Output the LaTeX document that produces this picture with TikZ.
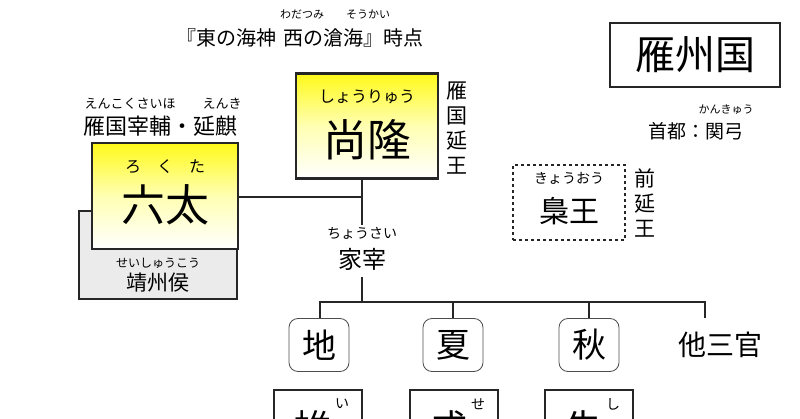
\documentclass[tikz,border=0pt]{standalone}
\usepackage{fontspec}
\setmainfont{Noto Sans CJK JP}
\begin{document}
\begin{tikzpicture}[x=1pt,y=-1pt,
  box/.style={draw=black!85,line width=2.2pt},
  yel/.style={box,top color=yellow!95!orange!90,bottom color=white,middle color=yellow!30},
  rbox/.style={draw=black!70,line width=0.8pt,rounded corners=9pt,minimum width=60pt,minimum height=53pt,inner sep=0pt,font=\fontsize{34}{34}\selectfont},
  ln/.style={line width=2.2pt,draw=black!85},
  furi/.style={font=\fontsize{11}{11}\selectfont,inner sep=0pt},
  txt/.style={inner sep=0pt,font=\fontsize{24}{24}\selectfont},
  vert/.style={inner sep=0pt,align=center,font=\fontsize{21}{25}\selectfont}]
\useasboundingbox (0,0) rectangle (800,419);
\clip (0,0) rectangle (800,419);
% title
\node[inner sep=0pt,font=\fontsize{20}{20}\selectfont] (title) at (300,38) {『東の海神\, 西の滄海』時点};
\node[furi] (f1) at (302,14) {わだつみ};
\node[furi] (f2) at (368,14) {そうかい};
% country
\node[box,minimum width=170pt,minimum height=64pt,inner sep=0pt,font=\fontsize{40}{40}\selectfont] (koku) at (695,55) {雁州国};
\node[inner sep=0pt,font=\fontsize{19}{19}\selectfont] (shuto) at (696,131) {首都：関弓};
\node[furi] (f3) at (726,110) {かんきゅう};
% shoryu
\node[yel,minimum width=142pt,minimum height=105pt] (sho) at (367,126) {};
\node[furi,font=\fontsize{16}{16}\selectfont] (f4) at (367,97) {しょうりゅう};
\node[inner sep=0pt,font=\fontsize{44}{44}\selectfont] (shot) at (367,140) {尚隆};
\node[vert] (en) at (457,128) {雁\\国\\延\\王};
% gray behind
\node[box,fill=black!8,minimum width=158pt,minimum height=88pt,anchor=north west,line width=2pt] (gray) at (78,210) {};
\node[furi,font=\fontsize{12}{12}\selectfont] (f5) at (158,263) {せいしゅうこう};
\node[txt,font=\fontsize{21}{21}\selectfont] (sei) at (158,283) {靖州侯};
% rokuta
\node[furi,font=\fontsize{13}{13}\selectfont] (f6) at (130,104) {えんこくさいほ};
\node[furi,font=\fontsize{13}{13}\selectfont] (f7) at (222,104) {えんき};
\node[inner sep=0pt,font=\fontsize{22}{22}\selectfont] (saiho) at (160,126) {雁国宰輔・延麒};
\node[yel,minimum width=146pt,minimum height=106pt] (roku) at (165,196) {};
\node[furi,font=\fontsize{16}{16}\selectfont] (f8) at (165,167) {ろ\quad く\quad た};
\node[inner sep=0pt,font=\fontsize{44}{44}\selectfont] (rokut) at (165,205) {六太};
% kasai
\coordinate (j1) at (362,197);
\node[furi,font=\fontsize{14}{14}\selectfont] (f9) at (362,233) {ちょうさい};
\node[txt] (kasai) at (362,259) {家宰};
\draw[ln] (roku.east |- j1) -- (j1);
\draw[ln] (sho.south -| j1) -- (j1) -- (362,225);
\coordinate (j2) at (362,302);
\draw[ln] (362,277) -- (j2);
\coordinate (hl) at (320,302);
\coordinate (hr) at (705,302);
\draw[ln] (320,318) -- (hl) -- (hr) -- (705,318);
% officials
\node[rbox] (chi) at (319,345) {地};
\node[rbox] (ka) at (453,345) {夏};
\node[rbox] (shu) at (589,345) {秋};
\node[inner sep=0pt,font=\fontsize{28}{28}\selectfont] (ta) at (720,345) {他三官};
\draw[ln] (ka.north) -- (ka.north|-j2);
\draw[ln] (shu.north) -- (shu.north|-j2);
% lower boxes
\foreach \n/\x/\c/\f in {b1/318/帷/い,b2/454/成/せ,b3/589/朱/し}{
  \node[box,minimum width=88pt,minimum height=70pt,anchor=north] (\n) at (\x,389) {};
  \node[inner sep=0pt,font=\fontsize{38}{38}\selectfont] at (\x-6,428) {\c};
  \node[furi,font=\fontsize{14}{14}\selectfont] at (\x+24,404) {\f};
}
% kyo-o
\node[draw=black!85,dashed,line width=2pt,minimum width=112pt,minimum height=75pt] (kyo) at (569,203) {};
\node[furi,font=\fontsize{14}{14}\selectfont] (f10) at (569,178) {きょうおう};
\node[inner sep=0pt,font=\fontsize{30}{30}\selectfont] (kyot) at (569,211) {梟王};
\node[vert] (zen) at (645,203) {前\\延\\王};
\end{tikzpicture}
\end{document}
